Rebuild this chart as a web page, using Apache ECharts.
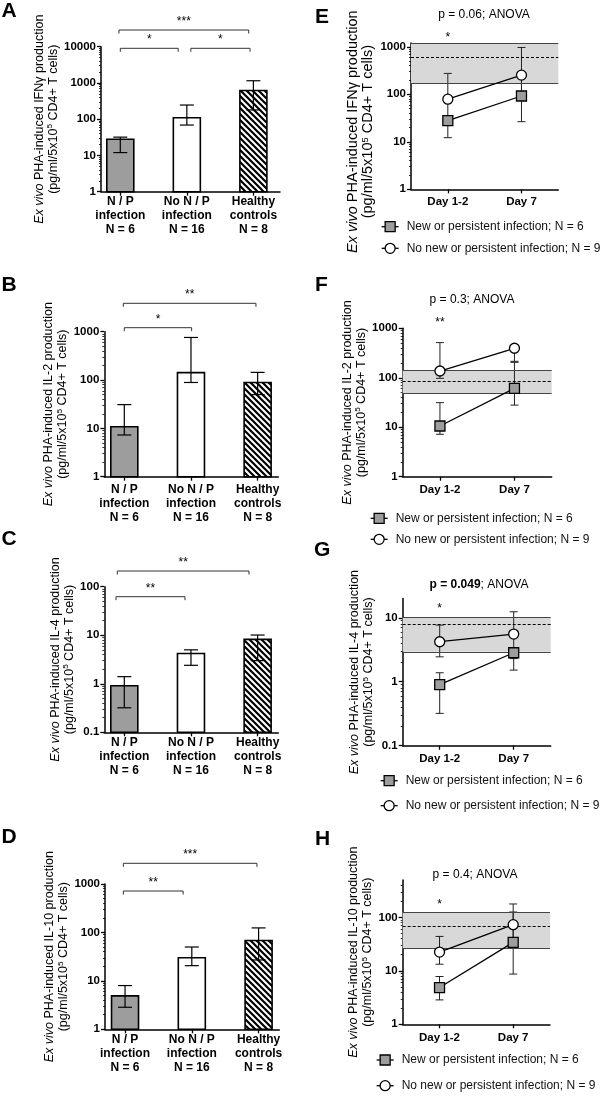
<!DOCTYPE html>
<html><head><meta charset="utf-8">
<script src="https://cdn.jsdelivr.net/npm/echarts@6/dist/echarts.min.js"></script>
<style>html,body{margin:0;padding:0;background:#fff}#c{width:600px;height:1098px}</style>
</head><body><div id="c"></div>
<script>
// ================= DATA =================
const groupLabels = ['N / P\ninfection\nN = 6', 'No N / P\ninfection\nN = 16', 'Healthy\ncontrols\nN = 8'];
const dayLabels = ['Day 1-2', 'Day 7'];
const lineNames = ['New or persistent infection; N = 6', 'No new or persistent infection; N = 9'];

const ticksIFN = [1, 10, 100, 1000, 10000];
const ticksIL2 = [1, 10, 100, 1000];
const ticksIL4 = [0.1, 1, 10, 100];
const ticksIL10 = [1, 10, 100, 1000];
const ticksE = [1, 10, 100, 1000];
const ticksF = [1, 10, 100, 1000];
const ticksG = [0.1, 1, 10];
const ticksH = [1, 10, 100];

// Bar panels (A-D): central value, lower and upper error limits per group
const ifnBar = [28, 110, 620];
const ifnBarLow = [12, 69, 180];
const ifnBarHigh = [32, 246, 1150];
const il2Bar = [10.8, 142, 89];
const il2BarLow = [7.3, 89, 50];
const il2BarHigh = [31, 760, 144];
const il4Bar = [0.91, 4.2, 8.2];
const il4BarLow = [0.32, 2.4, 3.0];
const il4BarHigh = [1.4, 5.0, 10.1];
const il10Bar = [4.9, 30, 68];
const il10BarLow = [2.85, 20.6, 27];
const il10BarHigh = [8, 50, 124];

// Significance labels of bar-panel comparisons
const sigA = ['*', '*', '***'];
const sigB = ['*', '**'];
const sigC = ['**', '**'];
const sigD = ['**', '***'];

// Line panels (E-H): per day values for both groups
const ifnNew = [28, 92], ifnNewLow = [12.2, 26.5], ifnNewHigh = [32, 240];
const ifnNone = [79, 253], ifnNoneLow = [31, 100], ifnNoneHigh = [275, 967];
const ifnRef = [170, 590, 1160];   // healthy controls: low, median, high

const il2New = [10.6, 61], il2NewLow = [7.2, 28], il2NewHigh = [31.4, 205];
const il2None = [137, 395], il2NoneLow = [97.5, 215], il2NoneHigh = [514, 420];
const il2Ref = [48.5, 86, 144];

const il4New = [0.9, 2.84], il4NewLow = [0.32, 1.52], il4NewHigh = [1.38, 3.3];
const il4None = [4.22, 5.56], il4NoneLow = [2.45, 2.3], il4NoneHigh = [7.67, 12.4];
const il4Ref = [2.94, 7.87, 10.1];

const il10New = [4.87, 34], il10NewLow = [2.86, 8.7], il10NewHigh = [7.83, 126];
const il10None = [22.4, 73], il10NoneLow = [13.3, 40], il10NoneHigh = [44, 178];
const il10Ref = [26.7, 67, 126];

const dayStars = ['*', '**', '*', '*'];
const pTexts = ['p = 0.06; ANOVA', 'p = 0.3; ANOVA', '{b|p = 0.049}; ANOVA', 'p = 0.4; ANOVA'];

// ================= RENDER =================
const FONT = '"Liberation Sans", Arial, Helvetica, sans-serif';

const hc = document.createElement('canvas'); hc.width = 6; hc.height = 6;
(function(){ const g = hc.getContext('2d'); g.fillStyle = '#fff'; g.fillRect(0,0,6,6);
  g.strokeStyle = '#000'; g.lineWidth = 2.2; g.beginPath();
  g.moveTo(-1,-1); g.lineTo(7,7); g.moveTo(-1,5); g.lineTo(1,7); g.moveTo(5,-1); g.lineTo(7,1); g.stroke(); })();
const barFills = ['#9d9d9d', '#ffffff', {image: hc, repeat: 'repeat'}];

function yName(cyt) {
  return '{i|Ex vivo} PHA-induced ' + cyt + ' production\n(pg/ml/5x10{s|5} CD4+ T cells)';
}
function fmtTick(v) { return String(Math.round(v * 1000) / 1000); }

const option = {animation: false, backgroundColor: '#fff', textStyle: {fontFamily: FONT, color: '#000'},
  grid: [], xAxis: [], yAxis: [], series: [], legend: [], graphic: []};

function makeYAxis(k, p) {
  const fs = p.nameSize || 12.5, lh = p.nameLH || 14;
  return {gridIndex: k, type: 'log', logBase: 10, min: p.y[0], max: p.y[1],
    axisLine: {show: true, onZero: false, lineStyle: {color: '#000', width: 1.5}},
    axisTick: {show: true, inside: false, customValues: p.ticks, length: 4, lineStyle: {color: '#000', width: 1.3}},
    minorTick: {show: true, splitNumber: 9, length: 2, lineStyle: {color: '#000', width: 0.8}},
    axisLabel: {show: true, customValues: p.ticks, formatter: fmtTick, fontWeight: 'bold', fontSize: 11.5, margin: 5, color: '#000', fontFamily: FONT},
    splitLine: {show: false}, minorSplitLine: {show: false},
    name: yName(p.cyt), nameLocation: 'middle', nameGap: p.nameGap, nameRotate: 90,
    nameTextStyle: {fontFamily: FONT, fontSize: fs, lineHeight: lh, color: '#000', padding: p.namePad || 0,
      rich: {i: {fontStyle: 'italic', fontSize: fs, lineHeight: lh, fontFamily: FONT, color: '#000'},
             s: {fontSize: fs * 0.65, lineHeight: 8, verticalAlign: 'top', fontFamily: FONT, color: '#000'}}}
  };
}

function annotSeries(k, items, yMin) {
  return {type: 'custom', xAxisIndex: k, yAxisIndex: k, clip: false, silent: true, z: 6,
    data: items.map(it => [it.x[0], yMin]),
    renderItem: function (params, api) {
      const it = items[params.dataIndex];
      const cs = params.coordSys;
      const y = cs.y + it.dy;
      const xa = api.coord([it.x[0], yMin])[0];
      const xb = api.coord([it.x[1], yMin])[0];
      const ch = [];
      let cy = y;
      if (it.bracket) {
        ch.push({type: 'polyline', shape: {points: [[xa, y + 3.5], [xa, y], [xb, y], [xb, y + 3.5]]},
          style: {stroke: '#333', lineWidth: 1, fill: 'none'}});
        cy = y - 11;
      }
      ch.push({type: 'text', x: (xa + xb) / 2, y: cy + 2.6,
        style: {text: it.label, font: '12px ' + FONT, fill: '#000', align: 'center', verticalAlign: 'middle'}});
      return {type: 'group', children: ch};
    }};
}

function addBarPanel(p) {
  const k = option.grid.length;
  option.grid.push({left: p.grid[0], top: p.grid[1], width: p.grid[2], height: p.grid[3], containLabel: false, outerBoundsMode: 'none'});
  option.xAxis.push({gridIndex: k, type: 'value', min: p.x[0], max: p.x[1],
    axisLine: {show: true, onZero: false, lineStyle: {color: '#000', width: 1.5}},
    axisTick: {show: true, customValues: [0, 1, 2], length: 4, lineStyle: {color: '#000', width: 1.3}},
    axisLabel: {show: true, customValues: [0, 1, 2], formatter: v => groupLabels[Math.round(v)], fontWeight: 'bold',
      fontSize: 12, lineHeight: 13.7, margin: p.labelMargin, color: '#000', fontFamily: FONT},
    splitLine: {show: false}});
  option.yAxis.push(makeYAxis(k, p));
  const yMin = p.y[0];
  option.series.push({type: 'custom', xAxisIndex: k, yAxisIndex: k, clip: false, silent: true, z: 3,
    data: p.mean.map((m, i) => [i, m, p.lo[i], p.hi[i]]),
    renderItem: function (params, api) {
      const i = api.value(0);
      const top = api.coord([i, api.value(1)]);
      const base = api.coord([i, yMin]);
      const lo = api.coord([i, api.value(2)])[1];
      const hi = api.coord([i, api.value(3)])[1];
      const w = 27, c = 7, x = top[0];
      const es = {stroke: '#000', lineWidth: 1.2};
      return {type: 'group', children: [
        {type: 'rect', shape: {x: x - w / 2, y: top[1], width: w, height: base[1] - top[1]},
          style: {fill: barFills[params.dataIndex], stroke: '#000', lineWidth: 1.6}},
        {type: 'line', shape: {x1: x, y1: lo, x2: x, y2: hi}, style: es},
        {type: 'line', shape: {x1: x - c, y1: hi, x2: x + c, y2: hi}, style: es},
        {type: 'line', shape: {x1: x - c, y1: lo, x2: x + c, y2: lo}, style: es}
      ]};
    }});
  const items = p.brackets.map((b, i) => ({x: b.x, dy: b.dy, label: p.sig[i], bracket: true}));
  option.series.push(annotSeries(k, items, yMin));
}

function addLinePanel(p) {
  const k = option.grid.length;
  option.grid.push({left: p.grid[0], top: p.grid[1], width: p.grid[2], height: p.grid[3], containLabel: false, outerBoundsMode: 'none'});
  option.xAxis.push({gridIndex: k, type: 'category', data: dayLabels, boundaryGap: true,
    axisLine: {show: true, onZero: false, lineStyle: {color: '#000', width: 1.5}},
    axisTick: {show: true, alignWithLabel: true, length: 4, lineStyle: {color: '#000', width: 1.3}},
    axisLabel: {show: true, fontWeight: 'bold', fontSize: 11.5, lineHeight: 13.7, margin: p.labelMargin, color: '#000', fontFamily: FONT},
    splitLine: {show: false}});
  option.yAxis.push(makeYAxis(k, p));
  const yMin = p.y[0];
  // healthy-control reference band
  option.series.push({type: 'line', xAxisIndex: k, yAxisIndex: k, data: [], silent: true, z: 1, symbol: 'none',
    markArea: {silent: true, itemStyle: {color: '#d8d8d8'}, data: [[{yAxis: p.ref[0]}, {yAxis: p.ref[2]}]]},
    markLine: {silent: true, symbol: ['none', 'none'], label: {show: false}, animation: false,
      data: [{yAxis: p.ref[1], lineStyle: {type: [3, 2], color: '#000', width: 1}},
             {yAxis: p.ref[0], lineStyle: {type: 'solid', color: '#444', width: 1}},
             {yAxis: p.ref[2], lineStyle: {type: 'solid', color: '#444', width: 1}}]}});
  // error bars
  const errData = p.newV.map((v, i) => [i, p.newLo[i], p.newHi[i]]).concat(p.noneV.map((v, i) => [i, p.noneLo[i], p.noneHi[i]]));
  option.series.push({type: 'custom', xAxisIndex: k, yAxisIndex: k, clip: false, silent: true, z: 4, data: errData,
    renderItem: function (params, api) {
      const a = api.coord([api.value(0), api.value(1)]);
      const b = api.coord([api.value(0), api.value(2)]);
      const x = a[0], c = 4;
      const es = {stroke: '#222', lineWidth: 1};
      return {type: 'group', children: [
        {type: 'line', shape: {x1: x, y1: a[1], x2: x, y2: b[1]}, style: es},
        {type: 'line', shape: {x1: x - c, y1: a[1], x2: x + c, y2: a[1]}, style: es},
        {type: 'line', shape: {x1: x - c, y1: b[1], x2: x + c, y2: b[1]}, style: es}
      ]};
    }});
  option.series.push({type: 'line', name: lineNames[0], xAxisIndex: k, yAxisIndex: k, data: p.newV, z: 5,
    symbol: 'rect', symbolSize: 10, itemStyle: {color: '#9d9d9d', borderColor: '#000', borderWidth: 1.3},
    lineStyle: {color: '#000', width: 1.3}, emphasis: {disabled: true}});
  option.series.push({type: 'line', name: lineNames[1], xAxisIndex: k, yAxisIndex: k, data: p.noneV, z: 5,
    symbol: 'circle', symbolSize: 10, itemStyle: {color: '#ffffff', borderColor: '#000', borderWidth: 1.3},
    lineStyle: {color: '#000', width: 1.3}, emphasis: {disabled: true}});
  option.series.push(annotSeries(k, [{x: [0, 0], dy: p.starDy, label: p.star, bracket: false}], yMin));
  option.legend.push({data: lineNames, orient: 'vertical', left: p.legend[0], top: p.legend[1], itemGap: p.legend[2],
    padding: 0, itemWidth: 17, itemHeight: 12.5, selectedMode: false,
    itemStyle: {borderWidth: 1.3, borderColor: '#000'}, lineStyle: {width: 1.3, color: '#000'},
    textStyle: {fontSize: 12, color: '#111', lineHeight: 14, padding: [0, 0, 0, 3], fontFamily: FONT}});
  option.graphic.push({type: 'text', x: p.pPos[0], y: p.pPos[1], silent: true,
    style: {text: p.pText, font: '12px ' + FONT, fill: '#000', align: 'center', verticalAlign: 'middle',
      rich: {b: {fontWeight: 'bold', fontSize: 12, fontFamily: FONT, fill: '#000'}}}});
}

addBarPanel({cyt: 'IFNγ', mean: ifnBar, lo: ifnBarLow, hi: ifnBarHigh, ticks: ticksIFN, sig: sigA,
  grid: [101, 46.7, 179, 145], x: [-0.29, 2.40], y: [1, 10000], nameGap: 30, labelMargin: 3.5,
  brackets: [{x: [0, 0.87], dy: 1.6}, {x: [1.06, 1.95], dy: 1.6}, {x: [-0.02, 1.93], dy: -16.7}]});
addBarPanel({cyt: 'IL-2', mean: il2Bar, lo: il2BarLow, hi: il2BarHigh, ticks: ticksIL2, sig: sigB,
  grid: [104.3, 331.7, 174, 145], x: [-0.3, 2.31], y: [1, 1000], nameGap: 32, labelMargin: 6.5,
  brackets: [{x: [0, 1.01], dy: -4}, {x: [-0.015, 1.975], dy: -28.4}]});
addBarPanel({cyt: 'IL-4', mean: il4Bar, lo: il4BarLow, hi: il4BarHigh, ticks: ticksIL4, sig: sigC,
  grid: [104.3, 586.7, 174, 145.6], x: [-0.3, 2.31], y: [0.1, 100], nameGap: 28, labelMargin: 4,
  brackets: [{x: [-0.124, 0.91], dy: 10}, {x: [-0.105, 1.87], dy: -15.7}]});
addBarPanel({cyt: 'IL-10', mean: il10Bar, lo: il10BarLow, hi: il10BarHigh, ticks: ticksIL10, sig: sigD,
  grid: [105, 884, 174.3, 145.3], x: [-0.3, 2.31], y: [1, 1000], nameGap: 33, labelMargin: 4,
  brackets: [{x: [-0.025, 0.87], dy: 7}, {x: [-0.025, 1.975], dy: -20.7}]});

addLinePanel({cyt: 'IFNγ', newV: ifnNew, newLo: ifnNewLow, newHi: ifnNewHigh, noneV: ifnNone, noneLo: ifnNoneLow, noneHi: ifnNoneHigh,
  ref: ifnRef, ticks: ticksE, grid: [411, 43, 147.3, 146.3], y: [1, 1200], nameGap: 35.5, nameSize: 14.5, nameLH: 15, namePad: [0, 31, 0, 0],
  labelMargin: 5.5, star: dayStars[0], starDy: -8, legend: [381, 219.7, 7.6], pText: pTexts[0], pPos: [484, 15]});
addLinePanel({cyt: 'IL-2', newV: il2New, newLo: il2NewLow, newHi: il2NewHigh, noneV: il2None, noneLo: il2NoneLow, noneHi: il2NoneHigh,
  ref: il2Ref, ticks: ticksF, grid: [402.7, 328.3, 149, 148.4], y: [1, 1000], nameGap: 33.5,
  labelMargin: 6.5, star: dayStars[1], starDy: -8.3, legend: [370, 511.3, 7], pText: pTexts[1], pPos: [472, 300]});
addLinePanel({cyt: 'IL-4', newV: il4New, newLo: il4NewLow, newHi: il4NewHigh, noneV: il4None, noneLo: il4NoneLow, noneHi: il4NoneHigh,
  ref: il4Ref, ticks: ticksG, grid: [402.7, 598.5, 148, 147.2], y: [0.1, 20], nameGap: 26.7,
  labelMargin: 5.8, star: dayStars[2], starDy: 7.2, legend: [380, 773.7, 11], pText: pTexts[2], pPos: [479, 585]});
addLinePanel({cyt: 'IL-10', newV: il10New, newLo: il10NewLow, newHi: il10NewHigh, noneV: il10None, noneLo: il10NoneLow, noneHi: il10NoneHigh,
  ref: il10Ref, ticks: ticksH, grid: [402.7, 880, 147.3, 144.3], y: [1, 500], nameGap: 27,
  labelMargin: 7, star: dayStars[3], starDy: 21.7, legend: [376, 1053, 11.7], pText: pTexts[3], pPos: [475, 875]});

// panel letters
[['A', 1.5, 10.8], ['B', 1.5, 285.5], ['C', 1.5, 539.5], ['D', 1.5, 837.5],
 ['E', 315, 17.5], ['F', 315, 285.5], ['G', 314, 550.5], ['H', 315, 839.5]].forEach(l => {
  option.graphic.push({type: 'text', x: l[1], y: l[2], silent: true,
    style: {text: l[0], font: 'bold 21px ' + FONT, fill: '#000', align: 'left', verticalAlign: 'middle'}});
});

const chart = echarts.init(document.getElementById('c'), null, {renderer: 'canvas'});
chart.setOption(option);
</script></body></html>
